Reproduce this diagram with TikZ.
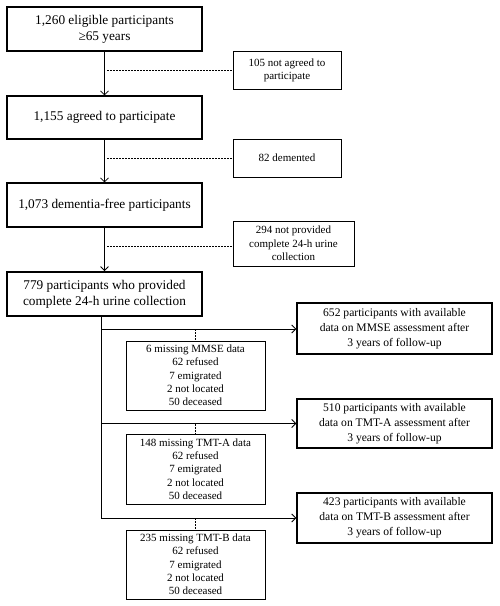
\documentclass[tikz,border=0pt]{standalone}
\usepackage{fontspec}
\setmainfont{Liberation Serif}
\usetikzlibrary{arrows.meta}
\begin{document}
\begin{tikzpicture}[x=1pt,y=-1pt,
  mainbox/.style={draw,line width=1.1pt,minimum width=195pt,align=center,inner sep=0pt,font=\fontsize{13.3}{15.7}\selectfont},
  resbox/.style={draw,line width=1.4pt,minimum width=195pt,align=center,inner sep=0pt,font=\fontsize{11.6}{15}\selectfont},
  sidebox/.style={draw,line width=0.7pt,minimum width=108pt,align=center,inner sep=0pt,font=\fontsize{11}{13.3}\selectfont},
  lossbox/.style={draw,line width=0.7pt,minimum width=139pt,minimum height=69pt,align=center,inner sep=0pt,font=\fontsize{11}{13.3}\selectfont},
  flow/.style={line width=0.8pt,-{Straight Barb[length=4pt,width=8pt]}},
  excl/.style={line width=0.6pt,dash pattern=on 2pt off 1pt}]
\useasboundingbox (0,0) rectangle (499,606);
\node[mainbox,minimum height=44pt] (b1) at (104.5,29) {1,260 eligible participants\\≥65 years};
\node[mainbox,minimum height=43pt] (b2) at (104.5,117.5) {1,155 agreed to participate};
\node[mainbox,minimum height=44pt] (b3) at (104.5,205) {1,073 dementia-free participants};
\node[mainbox,line width=1.8pt,minimum height=44pt] (b4) at (104.5,294) {779 participants who provided\\complete 24-h urine collection};
\node[sidebox,minimum height=38pt] (s1) at (287,70) {105 not agreed to\\participate};
\node[sidebox,minimum height=38pt] (s2) at (287,158) {82 demented};
\node[sidebox,minimum width=121pt,minimum height=45pt] (s3) at (293.5,243.5) {294 not provided\\complete 24-h urine\\collection};
\node[lossbox] (l1) at (195.5,375.5) {6 missing MMSE data\\62 refused\\7 emigrated\\2 not located\\50 deceased};
\node[lossbox,minimum height=70pt] (l2) at (195.5,469) {148 missing TMT-A data\\62 refused\\7 emigrated\\2 not located\\50 deceased};
\node[lossbox] (l3) at (195.5,564.5) {235 missing TMT-B data\\62 refused\\7 emigrated\\2 not located\\50 deceased};
\node[resbox,minimum height=51pt] (r1) at (394.5,328.5) {652 participants with available\\data on MMSE assessment after\\3 years of follow-up};
\node[resbox,minimum height=49pt] (r2) at (394.5,423.5) {510 participants with available\\data on TMT-A assessment after\\3 years of follow-up};
\node[resbox,minimum height=50pt] (r3) at (394.5,518) {423 participants with available\\data on TMT-B assessment after\\3 years of follow-up};
% main flow
\draw[flow] (b1.south) -- (b2.north);
\draw[flow] (b2.south) -- (b3.north);
\draw[flow] (b3.south) -- (b4.north);
% exclusions
\coordinate (e1) at (107,70);
\coordinate (e2) at (107,158);
\coordinate (e3) at (107,246);
\draw[excl] (e1) -- (e1 -| s1.west);
\draw[excl] (e2) -- (e2 -| s2.west);
\draw[excl,line width=0.9pt] (e3) -- (e3 -| s3.west);
% follow-up branches
\coordinate (t0) at (101,316);
\coordinate (t1) at (101,329);
\coordinate (t2) at (101,423.5);
\coordinate (t3) at (101,518);
\draw[line width=0.8pt] (t0) -- (t3);
\draw[flow] (t1) -- (t1 -| r1.west);
\draw[flow] (t2) -- (t2 -| r2.west);
\draw[flow] (t3) -- (t3 -| r3.west);
\draw[excl] (t1 -| l1.north) -- (l1.north);
\draw[excl] (t2 -| l2.north) -- (l2.north);
\draw[excl] (t3 -| l3.north) -- (l3.north);
\end{tikzpicture}
\end{document}
